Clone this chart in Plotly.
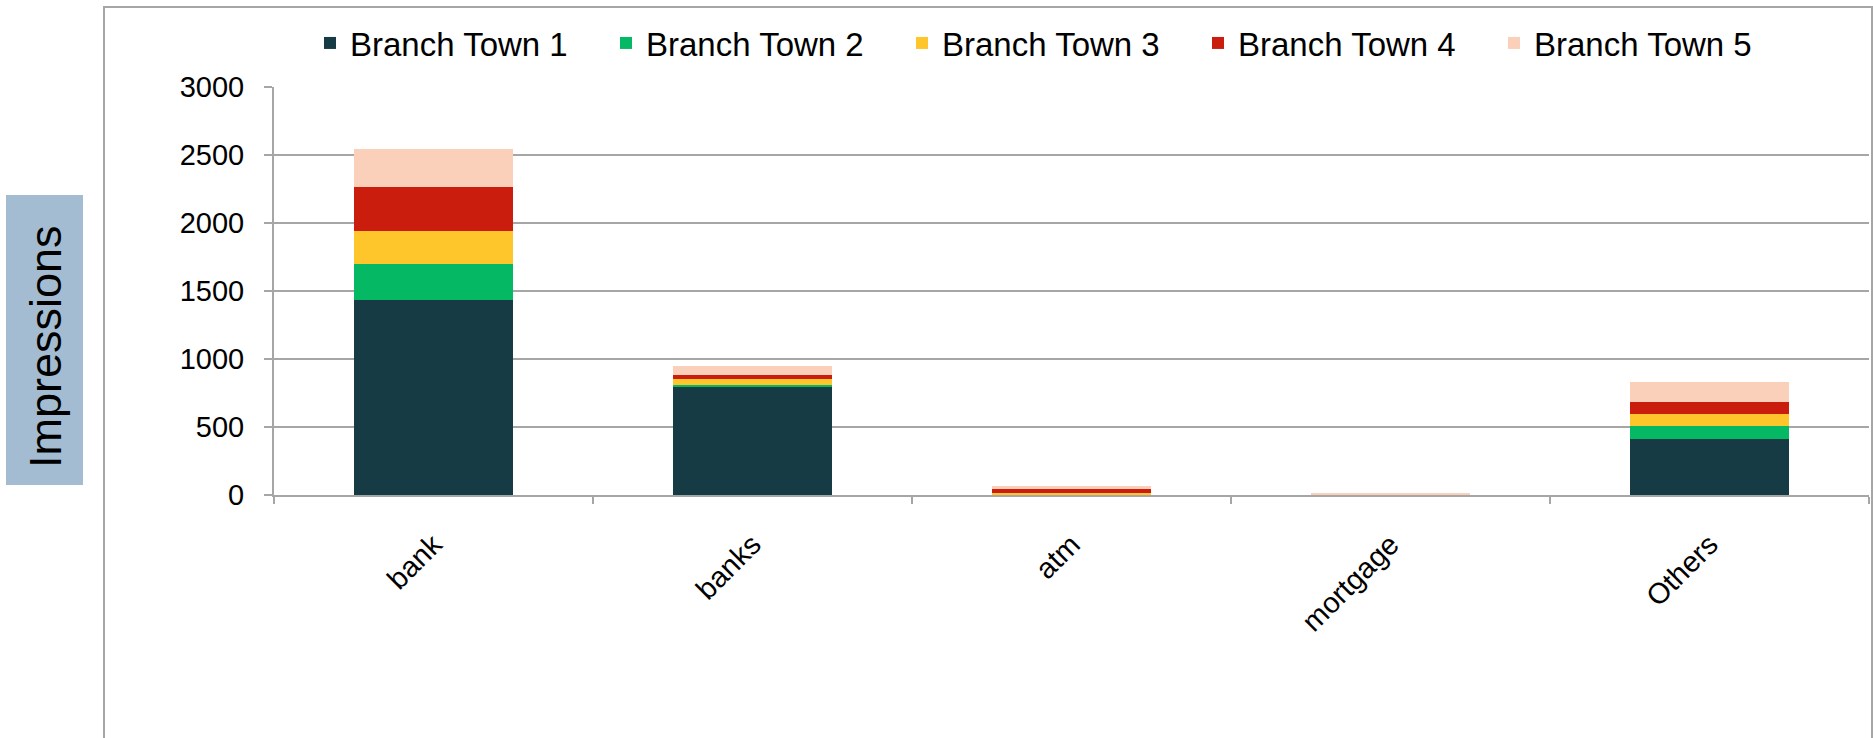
import plotly.graph_objects as go

# Keyword categories and impressions per branch town
categories = ["bank", "banks", "atm", "mortgage", "Others"]
series_names = ["Branch Town 1", "Branch Town 2", "Branch Town 3", "Branch Town 4", "Branch Town 5"]
town1 = [1434, 792, 3, 1, 412]
town2 = [262, 17, 2, 0, 98]
town3 = [243, 44, 12, 1, 86]
town4 = [328, 32, 27, 2, 86]
town5 = [275, 61, 22, 9, 149]
series_values = [town1, town2, town3, town4, town5]
colors = ["#163B45", "#05B863", "#FEC62A", "#CB1D0E", "#FAD0BB"]
y_ticks = [0, 500, 1000, 1500, 2000, 2500, 3000]

W, H = 1873, 738
L, R, T, B = 274, 4, 87, 243
PW, PH = W - L - R, H - T - B

FONT = "Liberation Sans, Arial, Helvetica, sans-serif"
GRID = "#A6A6A6"


def px_x(px):
    return (px - L) / PW


def px_y(py):
    return (H - B - py) / PH


fig = go.Figure()
for name, vals, col in zip(series_names, series_values, colors):
    fig.add_trace(go.Bar(
        x=categories, y=vals, name=name,
        marker=dict(color=col, line=dict(width=0)),
    ))

fig.update_layout(
    width=W, height=H,
    margin=dict(l=L, r=R, t=T, b=B, pad=0),
    barmode="stack",
    bargap=0.5,
    plot_bgcolor="white",
    paper_bgcolor="white",
    font=dict(family=FONT, color="black"),
    showlegend=True,
    legend=dict(
        orientation="h",
        xref="paper", yref="paper",
        x=px_x(310), y=px_y(43),
        xanchor="left", yanchor="middle",
        font=dict(size=33, family=FONT, color="black"),
        entrywidth=251, entrywidthmode="pixels",
        traceorder="normal",
        bgcolor="rgba(0,0,0,0)",
    ),
    xaxis=dict(
        type="category",
        tickson="boundaries",
        ticks="outside", ticklen=7, tickwidth=1.5, tickcolor=GRID,
        showline=True, linecolor=GRID, linewidth=2,
        showgrid=False,
        tickangle=-45,
        tickfont=dict(size=29, family=FONT, color="black"),
        ticklabelstandoff=19,
    ),
    yaxis=dict(
        range=[0, 3000],
        tickvals=y_ticks,
        ticks="outside", ticklen=8, tickwidth=1.5, tickcolor=GRID,
        showline=True, linecolor=GRID, linewidth=2,
        showgrid=True, gridcolor=GRID, gridwidth=1.5,
        zeroline=False,
        tickfont=dict(size=29, family=FONT, color="black"),
        ticklabelstandoff=14,
    ),
)

# Outer chart frame
fig.add_shape(
    type="rect", xref="paper", yref="paper",
    x0=px_x(104), x1=px_x(1872), y0=px_y(760), y1=px_y(7),
    line=dict(color=GRID, width=2), fillcolor="rgba(0,0,0,0)", layer="below",
)

# Axis title box
fig.add_shape(
    type="rect", xref="paper", yref="paper",
    x0=px_x(6), x1=px_x(83), y0=px_y(485), y1=px_y(195),
    line=dict(width=0), fillcolor="#A3BCD2", layer="below",
)
fig.add_annotation(
    text="Impressions", xref="paper", yref="paper",
    x=px_x(45), y=px_y(347), xanchor="center", yanchor="middle",
    textangle=-90, showarrow=False,
    font=dict(size=45, family=FONT, color="black"),
)

fig.write_html("out.html")
